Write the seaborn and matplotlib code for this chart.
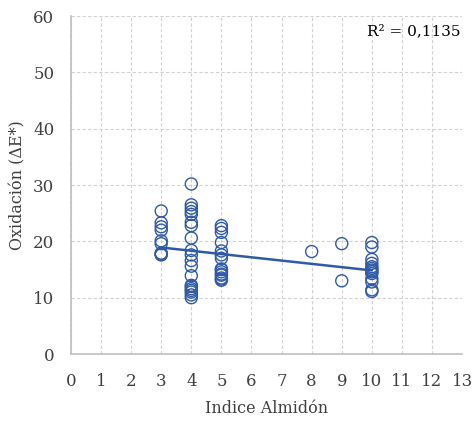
import numpy as np
import pandas as pd
import matplotlib
matplotlib.use("Agg")
import matplotlib.pyplot as plt
import seaborn as sns

# Data (overlapping circles included)
x3 = [3] * 10
y3 = [25.4, 23.3, 22.6, 22.0, 20.1, 19.6, 17.9, 17.8, 17.7, 17.6]
x4 = [4] * 20
y4 = [30.2, 26.5, 25.9, 25.3, 24.8, 23.4, 22.8, 20.6, 18.4, 17.6, 16.6, 15.6,
      13.9, 12.2, 12.0, 11.6, 11.3, 11.0, 10.5, 10.0]
x5 = [5] * 15
y5 = [22.8, 22.3, 21.6, 19.8, 18.3, 17.6, 17.0, 15.1, 15.0, 14.6, 14.2, 14.0,
      13.5, 13.3, 13.1]
x8 = [8]
y8 = [18.2]
x9 = [9, 9]
y9 = [19.6, 13.0]
x10 = [10] * 13
y10 = [19.8, 19.0, 16.8, 16.1, 15.5, 15.2, 14.9, 14.6, 14.3, 13.4, 12.8, 11.4, 11.1]

x_ticks = list(range(0, 14))
y_ticks = [0, 10, 20, 30, 40, 50, 60]
r2_label = "R² = 0,1135"
x_label = "Indice Almidón"
y_label = "Oxidación (ΔE*)"

df = pd.DataFrame({
    "x": x3 + x4 + x5 + x8 + x9 + x10,
    "y": y3 + y4 + y5 + y8 + y9 + y10,
})

sns.set_style("white")
plt.rcParams["font.family"] = ["DejaVu Serif", "Liberation Serif"]

fig = plt.figure(figsize=(4.73, 4.26), dpi=100)
ax = fig.add_axes([0.150, 0.169, 0.827, 0.793])

blue = "#2F5AA8"
sns.scatterplot(data=df, x="x", y="y", ax=ax, marker="o", s=75,
                facecolors="none", edgecolor=blue, linewidth=1.0, zorder=3)

# linear trend line over data range
coef = np.polyfit(df["x"], df["y"], 1)
xs = np.array([df["x"].min(), df["x"].max()])
sns.lineplot(x=xs, y=np.polyval(coef, xs), ax=ax, color=blue, linewidth=1.8, zorder=4)

ax.set_xlim(0, 13)
ax.set_ylim(0, 60)
ax.set_xticks(x_ticks)
ax.set_yticks(y_ticks)
ax.grid(True, color="#D0D0D0", linestyle=(0, (3, 2)), linewidth=0.8)
ax.set_axisbelow(True)
for s in ["top", "right"]:
    ax.spines[s].set_visible(False)
for s in ["left", "bottom"]:
    ax.spines[s].set_color("#BFBFBF")
    ax.spines[s].set_linewidth(1.2)
ax.tick_params(axis="both", length=0, labelsize=12, colors="#404040")
ax.tick_params(axis="x", pad=14)
ax.tick_params(axis="y", pad=12)
ax.set_xlabel(x_label, fontsize=11.5, color="#404040", labelpad=7)
ax.set_ylabel(y_label, fontsize=11.5, color="#404040", labelpad=5)
ax.text(12.95, 57.4, r2_label, ha="right", va="center", fontsize=11, color="#000000")

fig.savefig("out.png", dpi=100)
